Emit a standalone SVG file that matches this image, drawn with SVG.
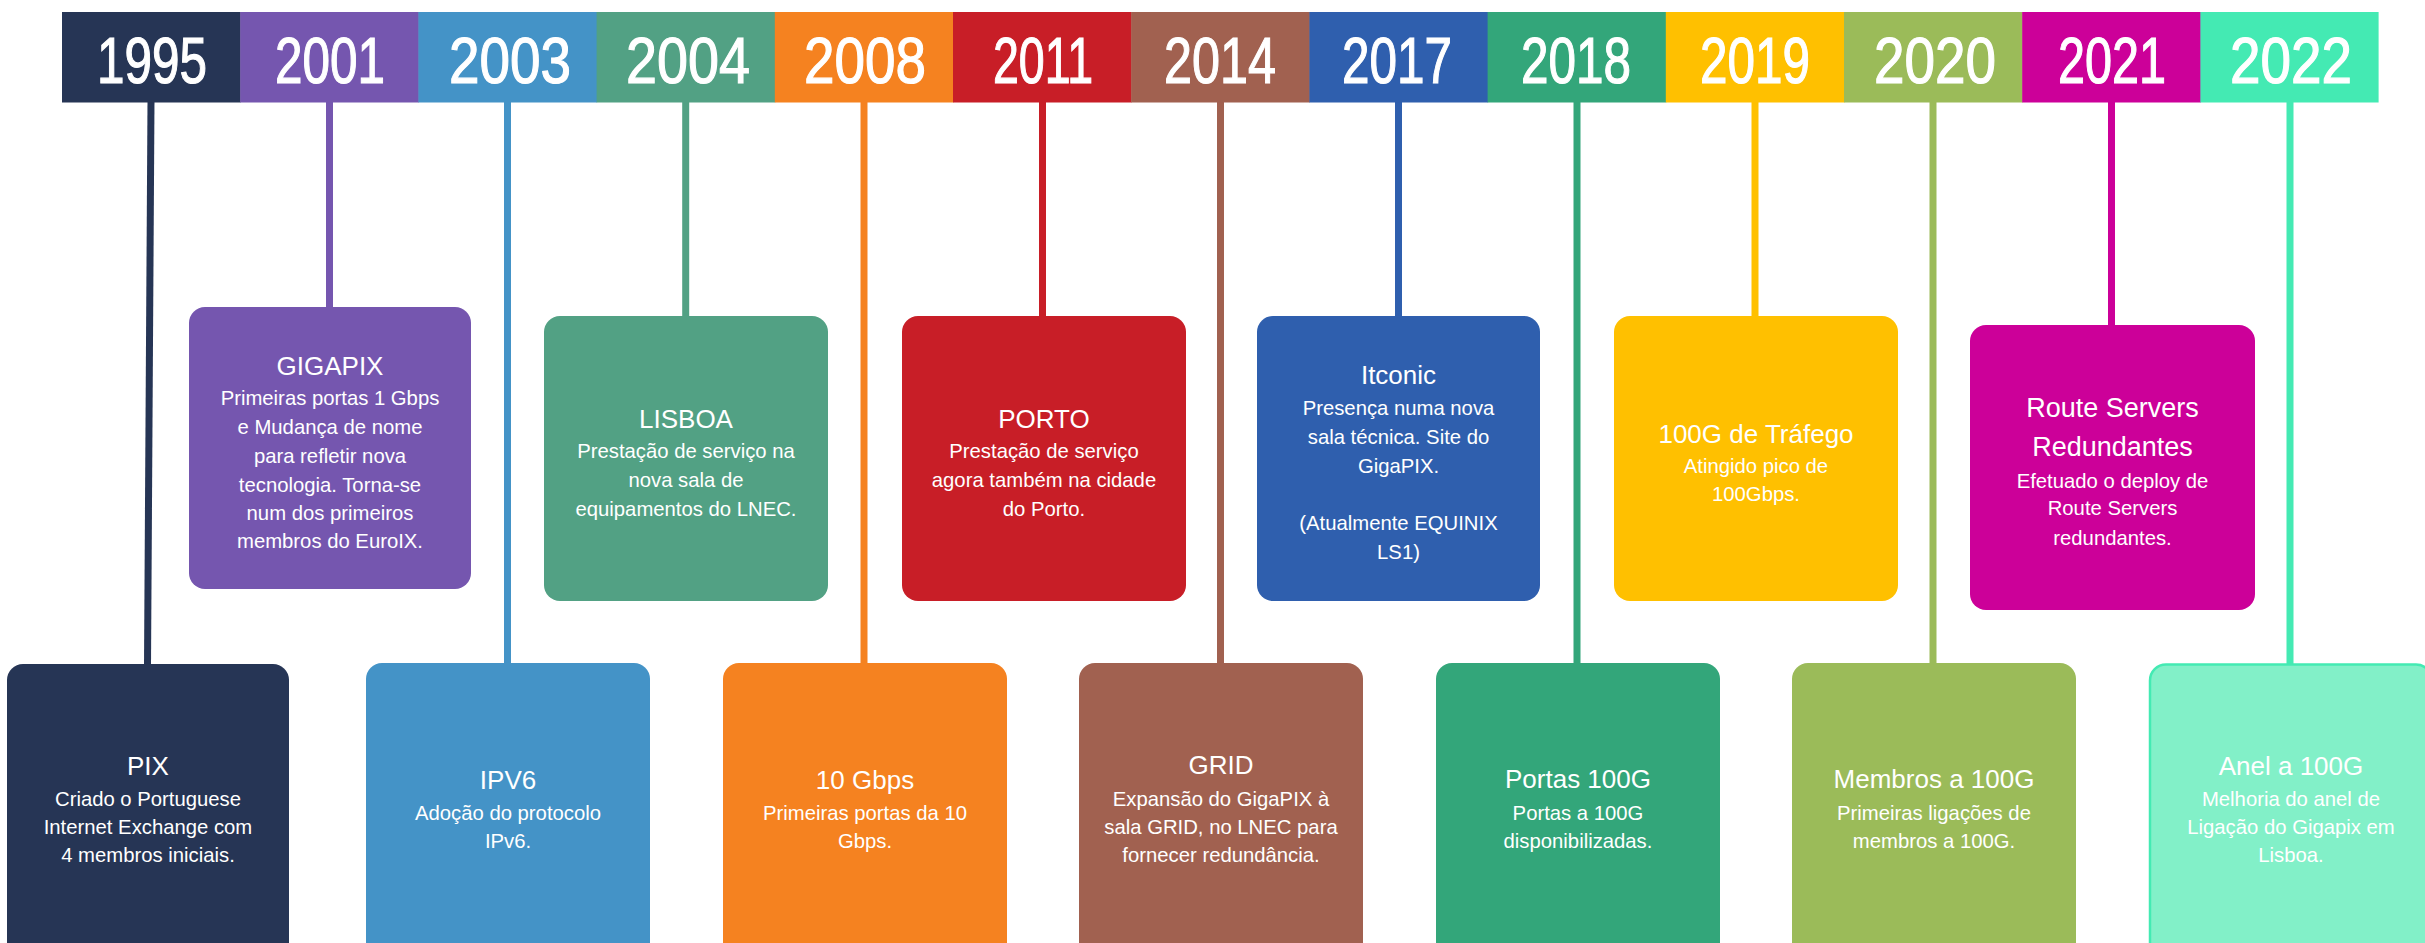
<svg xmlns="http://www.w3.org/2000/svg" width="2425" height="943" viewBox="0 0 2425 943">
<style>
.yr{font-family:"Liberation Sans",Arial,sans-serif;font-size:65px;fill:#fff;stroke:#fff;stroke-width:1.2;text-anchor:middle}
.tt{font-family:"Liberation Sans",Arial,sans-serif;font-size:26px;fill:#fff;text-anchor:middle}
.bd{font-family:"Liberation Sans",Arial,sans-serif;font-size:20.3px;fill:#fff;text-anchor:middle}
.cn{stroke-width:7;fill:none}
</style>
<rect width="2425" height="943" fill="#fff"/>
<g id="connectors">
<line class="cn" x1="151" y1="100" x2="147.5" y2="666" stroke="#263555"/>
<line class="cn" x1="329.5" y1="100" x2="329.5" y2="309" stroke="#7556AF"/>
<line class="cn" x1="507.5" y1="100" x2="507.5" y2="666" stroke="#4493C7"/>
<line class="cn" x1="685.7" y1="100" x2="685.7" y2="318" stroke="#52A184"/>
<line class="cn" x1="864" y1="100" x2="864" y2="666" stroke="#F58220"/>
<line class="cn" x1="1042.5" y1="100" x2="1042.5" y2="318" stroke="#C81E27"/>
<line class="cn" x1="1220.5" y1="100" x2="1220.5" y2="666" stroke="#A16150"/>
<line class="cn" x1="1398.5" y1="100" x2="1398.5" y2="318" stroke="#2F5FAE"/>
<line class="cn" x1="1577" y1="100" x2="1577" y2="666" stroke="#33A67A"/>
<line class="cn" x1="1755" y1="100" x2="1755" y2="318" stroke="#FFC000"/>
<line class="cn" x1="1933" y1="100" x2="1933" y2="666" stroke="#9BBB59"/>
<line class="cn" x1="2111.5" y1="100" x2="2111.5" y2="327" stroke="#CC0099"/>
<line class="cn" x1="2290" y1="100" x2="2290" y2="666" stroke="#44EAB3"/>
</g>
<g id="year-1995"><rect x="62" y="12" width="178.7" height="90.5" fill="#263555"/><text class="yr" x="152" y="83" textLength="110" lengthAdjust="spacingAndGlyphs">1995</text></g>
<g id="year-2001"><rect x="240.2" y="12" width="178.7" height="90.5" fill="#7556AF"/><text class="yr" x="330" y="83" textLength="110" lengthAdjust="spacingAndGlyphs">2001</text></g>
<g id="year-2003"><rect x="418.4" y="12" width="178.7" height="90.5" fill="#4493C7"/><text class="yr" x="510" y="83" textLength="122" lengthAdjust="spacingAndGlyphs">2003</text></g>
<g id="year-2004"><rect x="596.6" y="12" width="178.7" height="90.5" fill="#52A184"/><text class="yr" x="688" y="83" textLength="124" lengthAdjust="spacingAndGlyphs">2004</text></g>
<g id="year-2008"><rect x="774.8" y="12" width="178.7" height="90.5" fill="#F58220"/><text class="yr" x="865" y="83" textLength="122" lengthAdjust="spacingAndGlyphs">2008</text></g>
<g id="year-2011"><rect x="953" y="12" width="178.7" height="90.5" fill="#C81E27"/><text class="yr" x="1043" y="83" textLength="100" lengthAdjust="spacingAndGlyphs">2011</text></g>
<g id="year-2014"><rect x="1131.2" y="12" width="178.7" height="90.5" fill="#A16150"/><text class="yr" x="1220" y="83" textLength="112" lengthAdjust="spacingAndGlyphs">2014</text></g>
<g id="year-2017"><rect x="1309.4" y="12" width="178.7" height="90.5" fill="#2F5FAE"/><text class="yr" x="1397" y="83" textLength="110" lengthAdjust="spacingAndGlyphs">2017</text></g>
<g id="year-2018"><rect x="1487.6" y="12" width="178.7" height="90.5" fill="#33A67A"/><text class="yr" x="1576" y="83" textLength="110" lengthAdjust="spacingAndGlyphs">2018</text></g>
<g id="year-2019"><rect x="1665.8" y="12" width="178.7" height="90.5" fill="#FFC000"/><text class="yr" x="1755" y="83" textLength="110" lengthAdjust="spacingAndGlyphs">2019</text></g>
<g id="year-2020"><rect x="1844" y="12" width="178.7" height="90.5" fill="#9BBB59"/><text class="yr" x="1935" y="83" textLength="122" lengthAdjust="spacingAndGlyphs">2020</text></g>
<g id="year-2021"><rect x="2022.2" y="12" width="178.7" height="90.5" fill="#CC0099"/><text class="yr" x="2112" y="83" textLength="108" lengthAdjust="spacingAndGlyphs">2021</text></g>
<g id="year-2022"><rect x="2200.4" y="12" width="178.2" height="90.5" fill="#44EAB3"/><text class="yr" x="2291" y="83" textLength="122" lengthAdjust="spacingAndGlyphs">2022</text></g>

<g id="event-pix"><rect x="7" y="664" width="282" height="310" rx="16" fill="#263555"/>
<text class="tt" x="148" y="775">PIX</text>
<text class="bd" x="148" y="806">Criado o Portuguese</text>
<text class="bd" x="148" y="834">Internet Exchange com</text>
<text class="bd" x="148" y="862">4 membros iniciais.</text></g>

<g id="event-gigapix"><rect x="189" y="307" width="282" height="282" rx="16" fill="#7556AF"/>
<text class="tt" x="330" y="375">GIGAPIX</text>
<text class="bd" x="330" y="405">Primeiras portas 1 Gbps</text>
<text class="bd" x="330" y="434">e Mudança de nome</text>
<text class="bd" x="330" y="463">para refletir nova</text>
<text class="bd" x="330" y="492">tecnologia. Torna-se</text>
<text class="bd" x="330" y="520">num dos primeiros</text>
<text class="bd" x="330" y="548">membros do EuroIX.</text></g>

<g id="event-ipv6"><rect x="366" y="663" width="284" height="310" rx="16" fill="#4493C7"/>
<text class="tt" x="508" y="789">IPV6</text>
<text class="bd" x="508" y="820">Adoção do protocolo</text>
<text class="bd" x="508" y="848">IPv6.</text></g>

<g id="event-lisboa"><rect x="544" y="316" width="284" height="285" rx="16" fill="#52A184"/>
<text class="tt" x="686" y="428">LISBOA</text>
<text class="bd" x="686" y="458">Prestação de serviço na</text>
<text class="bd" x="686" y="487">nova sala de</text>
<text class="bd" x="686" y="516">equipamentos do LNEC.</text></g>

<g id="event-10gbps"><rect x="723" y="663" width="284" height="310" rx="16" fill="#F58220"/>
<text class="tt" x="865" y="789">10 Gbps</text>
<text class="bd" x="865" y="820">Primeiras portas da 10</text>
<text class="bd" x="865" y="848">Gbps.</text></g>

<g id="event-porto"><rect x="902" y="316" width="284" height="285" rx="16" fill="#C81E27"/>
<text class="tt" x="1044" y="428">PORTO</text>
<text class="bd" x="1044" y="458">Prestação de serviço</text>
<text class="bd" x="1044" y="487">agora também na cidade</text>
<text class="bd" x="1044" y="516">do Porto.</text></g>

<g id="event-grid"><rect x="1079" y="663" width="284" height="310" rx="16" fill="#A16150"/>
<text class="tt" x="1221" y="774">GRID</text>
<text class="bd" x="1221" y="806">Expansão do GigaPIX à</text>
<text class="bd" x="1221" y="834">sala GRID, no LNEC para</text>
<text class="bd" x="1221" y="862">fornecer redundância.</text></g>

<g id="event-itconic"><rect x="1257" y="316" width="283" height="285" rx="16" fill="#2F5FAE"/>
<text class="tt" x="1398.5" y="384">Itconic</text>
<text class="bd" x="1398.5" y="415">Presença numa nova</text>
<text class="bd" x="1398.5" y="444">sala técnica. Site do</text>
<text class="bd" x="1398.5" y="473">GigaPIX.</text>
<text class="bd" x="1398.5" y="530">(Atualmente EQUINIX</text>
<text class="bd" x="1398.5" y="559">LS1)</text></g>

<g id="event-portas100g"><rect x="1436" y="663" width="284" height="310" rx="16" fill="#33A67A"/>
<text class="tt" x="1578" y="788">Portas 100G</text>
<text class="bd" x="1578" y="820">Portas a 100G</text>
<text class="bd" x="1578" y="848">disponibilizadas.</text></g>

<g id="event-100g-trafego"><rect x="1614" y="316" width="284" height="285" rx="16" fill="#FFC000"/>
<text class="tt" x="1756" y="443">100G de Tráfego</text>
<text class="bd" x="1756" y="473">Atingido pico de</text>
<text class="bd" x="1756" y="501">100Gbps.</text></g>

<g id="event-membros100g"><rect x="1792" y="663" width="284" height="310" rx="16" fill="#9BBB59"/>
<text class="tt" x="1934" y="788">Membros a 100G</text>
<text class="bd" x="1934" y="820">Primeiras ligações de</text>
<text class="bd" x="1934" y="848">membros a 100G.</text></g>

<g id="event-route-servers"><rect x="1970" y="325" width="285" height="285" rx="16" fill="#CC0099"/>
<text class="tt" x="2112.5" y="417" style="font-size:27px">Route Servers</text>
<text class="tt" x="2112.5" y="456" style="font-size:27px">Redundantes</text>
<text class="bd" x="2112.5" y="488">Efetuado o deploy de</text>
<text class="bd" x="2112.5" y="515">Route Servers</text>
<text class="bd" x="2112.5" y="545">redundantes.</text></g>

<g id="event-anel100g"><rect x="2150" y="664.5" width="282" height="310" rx="16" fill="#82F0C8" stroke="#44EAB3" stroke-width="2.5"/>
<text class="tt" x="2291" y="775">Anel a 100G</text>
<text class="bd" x="2291" y="806">Melhoria do anel de</text>
<text class="bd" x="2291" y="834">Ligação do Gigapix em</text>
<text class="bd" x="2291" y="862">Lisboa.</text></g>
</svg>
